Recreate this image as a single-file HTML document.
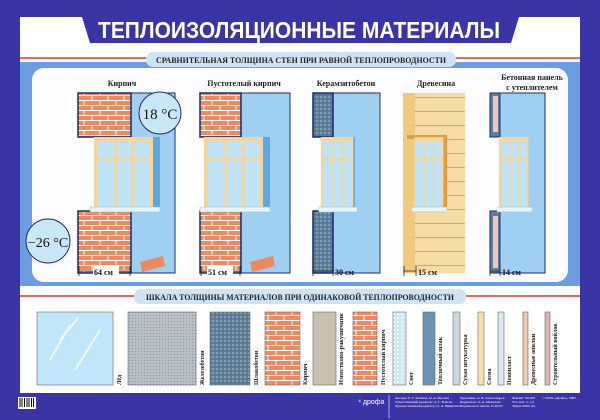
<!DOCTYPE html>
<html><head><meta charset="utf-8"><style>
html,body{margin:0;padding:0;width:600px;height:420px;overflow:hidden;background:#3a34a6}
svg{display:block}
text{font-family:"Liberation Serif","Noto Serif CJK SC",serif}
</style></head><body>
<svg width="600" height="420" viewBox="0 0 600 420" xmlns="http://www.w3.org/2000/svg">
<defs>
<pattern id="brick" width="16" height="10" patternUnits="userSpaceOnUse">
<rect width="16" height="10" fill="#ec8a5f"/>
<path d="M0 0.5H16M0 5.5H16M4 0V5M12 5V10" stroke="#fff" stroke-width="1"/>
</pattern>
<pattern id="conc" width="4" height="4" patternUnits="userSpaceOnUse">
<rect width="4" height="4" fill="#5f7f99"/><circle cx="1" cy="1" r="0.8" fill="#a9c0d4"/><circle cx="3" cy="3" r="0.6" fill="#3f5b73"/>
</pattern>
<pattern id="grey" width="3" height="3" patternUnits="userSpaceOnUse">
<rect width="3" height="3" fill="#b9bfc6"/><rect width="1" height="1" fill="#8e959c"/>
</pattern>
<pattern id="wood" width="60" height="14" patternUnits="userSpaceOnUse">
<rect width="60" height="14" fill="#f6dca4"/><path d="M0 13.5H60" stroke="#d4a860" stroke-width="1"/>
</pattern>
<pattern id="snow" width="4" height="4" patternUnits="userSpaceOnUse">
<rect width="4" height="4" fill="#cfe9f8"/><circle cx="2" cy="2" r="1" fill="#fff"/>
</pattern>
<g id="win">
<rect x="0" y="0" width="55" height="70" fill="#bfe3f6"/>
<rect x="0" y="0" width="55" height="70" fill="none" stroke="#f4d69c" stroke-width="4"/>
<path d="M20 0V70M37 0V70M2 20H55" stroke="#f4d69c" stroke-width="3"/>
<rect x="-6" y="68" width="70" height="5" fill="#e8f3fb" stroke="#9bb" stroke-width="0.5"/>
</g>
</defs>

<rect x="20" y="17" width="560" height="376" fill="#fff"/>
<polygon points="82,17 519,17 511,43 90,43" fill="#3a34a6"/>
<rect x="0" y="0" width="600" height="17" fill="#3a34a6"/>
<text x="98" y="38" textLength="402" lengthAdjust="spacingAndGlyphs" font-weight="bold" font-size="23" fill="#fff" style="font-family:'Liberation Sans',sans-serif">ТЕПЛОИЗОЛЯЦИОННЫЕ МАТЕРИАЛЫ</text>

<rect x="20" y="62" width="560" height="224" fill="#6b9ee0"/>
<rect x="32" y="68" width="536" height="214" rx="12" fill="#fdfdff"/>
<line x1="20" y1="58" x2="580" y2="58" stroke="#d23a2a" stroke-width="1.5"/>
<rect x="146" y="52" width="310" height="15" rx="7" fill="#cfe3f7"/>
<text x="156" y="63" textLength="290" lengthAdjust="spacingAndGlyphs" font-weight="bold" font-size="8" fill="#222">СРАВНИТЕЛЬНАЯ ТОЛЩИНА СТЕН ПРИ РАВНОЙ ТЕПЛОПРОВОДНОСТИ</text>

<g font-weight="bold" font-size="8" fill="#222" text-anchor="middle">
<text x="122" y="86">Кирпич</text>
<text x="244" y="86">Пустотелый кирпич</text>
<text x="346" y="86">Керамзитобетон</text>
<text x="436" y="86">Древесина</text>
<text x="532" y="80">Бетонная панель</text>
<text x="532" y="90">с утеплителем</text>
</g>

<rect x="131" y="93" width="44" height="180" fill="#9fd0f2" stroke="#1b2b6a" stroke-width="1"/>
<rect x="150" y="137" width="10" height="75" fill="#5aa8e4"/>
<rect x="78" y="93" width="53" height="44" fill="url(#brick)" stroke="#1b2b6a" stroke-width="1.5"/>
<rect x="78" y="211" width="53" height="62" fill="url(#brick)" stroke="#1b2b6a" stroke-width="1.5"/>
<use href="#win" x="96" y="139"/>
<polygon points="140,262 163,256 165,266 142,272" fill="#ec8a5f"/>
<circle cx="160" cy="113" r="21" fill="#c8e8fa" stroke="#1b2b6a" stroke-width="1"/>
<text x="160" y="119" text-anchor="middle" font-size="15" fill="#111">18 °C</text>
<circle cx="48" cy="241" r="22" fill="#c8e8fa" stroke="#1b2b6a" stroke-width="1"/>
<text x="48" y="247" text-anchor="middle" font-size="14" fill="#111">−26 °C</text>

<rect x="241" y="93" width="49" height="180" fill="#9fd0f2" stroke="#1b2b6a" stroke-width="1"/>
<rect x="260" y="137" width="10" height="75" fill="#5aa8e4"/>
<rect x="200" y="93" width="41" height="44" fill="url(#brick)" stroke="#1b2b6a" stroke-width="1.5"/>
<rect x="200" y="211" width="41" height="62" fill="url(#brick)" stroke="#1b2b6a" stroke-width="1.5"/>
<use href="#win" x="206" y="139"/>
<polygon points="250,262 273,256 275,266 252,272" fill="#ec8a5f"/>

<rect x="333" y="93" width="47" height="180" fill="#9fd0f2" stroke="#1b2b6a" stroke-width="1"/>
<rect x="345" y="137" width="10" height="75" fill="#5aa8e4"/>
<rect x="313" y="93" width="20" height="44" fill="url(#conc)" stroke="#1b2b6a" stroke-width="1.5"/>
<rect x="313" y="211" width="20" height="62" fill="url(#conc)" stroke="#1b2b6a" stroke-width="1.5"/>
<use href="#win" transform="translate(322,139) scale(0.55,1)"/>

<rect x="403" y="93" width="62" height="180" fill="url(#wood)"/>
<rect x="403" y="93" width="12" height="180" fill="#f0c97e"/>
<path d="M407 137H445V212" fill="none" stroke="#e49a45" stroke-width="4"/>
<use href="#win" transform="translate(415,139) scale(0.5,1)"/>

<rect x="500" y="93" width="45" height="180" fill="#9fd0f2" stroke="#1b2b6a" stroke-width="1"/>
<rect x="490" y="93" width="10" height="44" fill="#5f7f99" stroke="#1b2b6a" stroke-width="1"/>
<rect x="493" y="96" width="5" height="36" fill="#f3c5c0"/>
<rect x="490" y="211" width="10" height="62" fill="#5f7f99" stroke="#1b2b6a" stroke-width="1"/>
<rect x="493" y="216" width="5" height="52" fill="#f3c5c0"/>
<use href="#win" transform="translate(500,139) scale(0.5,1)"/>

<g stroke="#222" stroke-width="0.8">
<path d="M79 266V276M130 266V276M79 271H130"/>
<path d="M201 266V276M240 266V276M201 271H240"/>
<path d="M313 266V276M333 266V276M313 271H333"/>
<path d="M404 266V276M416 266V276M404 271H416"/>
<path d="M490 266V276M500 266V276M490 271H500"/>
</g>
<g font-weight="bold" font-size="8" fill="#111">
<rect x="93" y="266" width="26" height="10" fill="#fff"/>
<text x="94" y="275">64 см</text>
<rect x="207" y="266" width="26" height="10" fill="#fff"/>
<text x="208" y="275">51 см</text>
<text x="335" y="275">30 см</text>
<text x="418" y="275">15 см</text>
<text x="502" y="275">14 см</text>
</g>

<line x1="20" y1="296" x2="580" y2="296" stroke="#d23a2a" stroke-width="1.5"/>
<rect x="134" y="289" width="332" height="15" rx="7" fill="#cfe3f7"/>
<text x="146" y="300" textLength="308" lengthAdjust="spacingAndGlyphs" font-weight="bold" font-size="8" fill="#222">ШКАЛА ТОЛЩИНЫ МАТЕРИАЛОВ ПРИ ОДИНАКОВОЙ ТЕПЛОПРОВОДНОСТИ</text>

<g stroke="#666" stroke-width="0.6">
<rect x="37" y="312" width="76" height="73" fill="#bfe6fa"/>
<rect x="128" y="312" width="68" height="73" fill="url(#grey)"/>
<rect x="210" y="312" width="40" height="73" fill="url(#conc)"/>
<rect x="265" y="312" width="35" height="73" fill="url(#brick)"/>
<rect x="313" y="312" width="23" height="73" fill="#c9c0b0"/>
<rect x="353" y="312" width="24" height="73" fill="url(#brick)"/>
<rect x="393" y="312" width="13" height="73" fill="url(#snow)"/>
<rect x="423" y="312" width="12" height="73" fill="#6a93b8"/>
<rect x="453" y="312" width="7" height="73" fill="#cdd6de"/>
<rect x="478" y="312" width="6" height="73" fill="#f7e0ad"/>
<rect x="498" y="312" width="6" height="73" fill="#d7e8f2"/>
<rect x="523" y="312" width="5" height="73" fill="#f1c9a4"/>
<rect x="545" y="312" width="5" height="73" fill="#d9b7b0"/>
</g>
<path d="M50 360L70 325M75 370L100 330M60 340L78 318" stroke="#fff" stroke-width="2" opacity="0.8"/>

<g font-weight="bold" font-size="6" fill="#222">
<text transform="translate(121,385) rotate(-90)">Лёд</text>
<text transform="translate(204,385) rotate(-90)">Железобетон</text>
<text transform="translate(258,385) rotate(-90)">Шлакобетон</text>
<text transform="translate(307,385) rotate(-90)">Кирпич</text>
<text transform="translate(343,385) rotate(-90)" textLength="72" lengthAdjust="spacingAndGlyphs">Известково-ракушечник</text>
<text transform="translate(385,385) rotate(-90)">Пустотелый кирпич</text>
<text transform="translate(413,385) rotate(-90)">Снег</text>
<text transform="translate(442,385) rotate(-90)">Тепличный шлак</text>
<text transform="translate(467,385) rotate(-90)">Сухая штукатурка</text>
<text transform="translate(491,385) rotate(-90)">Сосна</text>
<text transform="translate(511,385) rotate(-90)">Пенопласт</text>
<text transform="translate(535,385) rotate(-90)">Древесные опилки</text>
<text transform="translate(557,385) rotate(-90)">Строительный войлок</text>
</g>

<rect x="0" y="393" width="600" height="27" fill="#3a34a6"/>
<rect x="18" y="397" width="18" height="12" fill="#fff"/>
<path d="M20 398V407M22 398V407M24.5 398V407M27 398V407M29 398V407M31.5 398V407M33.5 398V407" stroke="#000" stroke-width="1"/>
<text x="358" y="404" font-size="7" fill="#fff" style="font-family:'Liberation Sans',sans-serif">⁴ дрофа</text>
<line x1="389" y1="395" x2="389" y2="418" stroke="#fff" stroke-width="0.6"/>
<g font-size="3.5" fill="#fff" style="font-family:'Liberation Sans',sans-serif">
<text x="395" y="399">Авторы: Е. Г. Казаков, О. А. Фролов</text>
<text x="395" y="403">Ответственный редактор: А. Г. Власов</text>
<text x="395" y="407">Художественный редактор: О. А. Никитина</text>
<text x="460" y="399">Художник: А. В. Александров</text>
<text x="460" y="403">Корректор: Л. А. Малахова</text>
<text x="460" y="407">Подписано в печать 15.05.05</text>
<text x="512" y="399">Формат 70x100</text>
<text x="512" y="403">Усл. печ. л. 1,0</text>
<text x="512" y="407">Тираж 3000 экз.</text>
<text x="542" y="399">© ООО «Дрофа», 2005</text>
</g>
</svg>
</body></html>
